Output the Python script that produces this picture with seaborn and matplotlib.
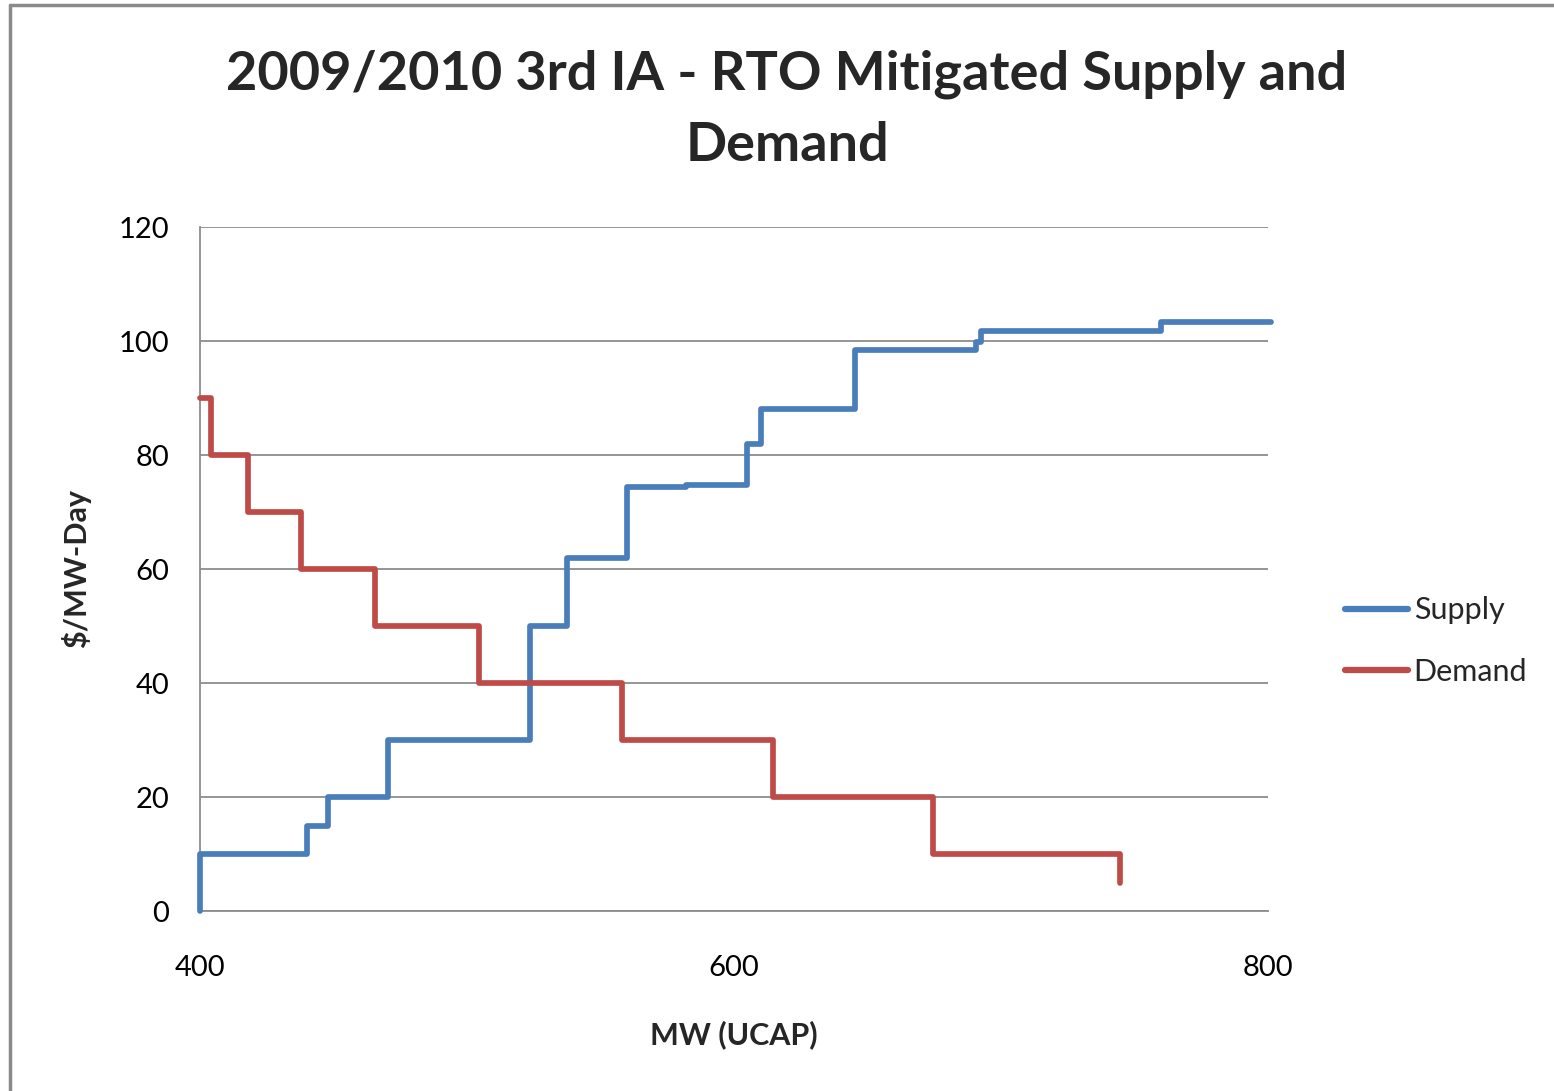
import numpy as np
import pandas as pd
import matplotlib
matplotlib.use("Agg")
import matplotlib.pyplot as plt
from matplotlib.lines import Line2D
import seaborn as sns

# ---- data ----
supply_mw = [400, 400, 440, 448, 470.5, 523.5, 537.5, 560, 582, 605, 610, 645.5, 690.5, 692.5, 760, 801]
supply_price = [0, 10, 15, 20, 30, 50, 62, 74.4, 74.7, 82, 88, 98.4, 99.8, 101.8, 103.3, 103.3]
demand_mw = [400, 404, 418, 438, 465.5, 504.5, 558, 614.5, 674.5, 744.5]
demand_price = [90, 80, 70, 60, 50, 40, 30, 20, 10, 5]
x_ticks = [400, 600, 800]
y_ticks = [0, 20, 40, 60, 80, 100, 120]
title_text = "2009/2010 3rd IA - RTO Mitigated Supply and\nDemand"
x_label = "MW (UCAP)"
y_label = "$/MW-Day"
series_names = ["Supply", "Demand"]

sns.set_style("white")
plt.rcParams["font.family"] = ["Lato", "DejaVu Sans"]

BLUE = "#4A7EBB"
RED = "#BE4B48"
GRID = "#8C8C8C"

W, H = 1554, 1091
fig = plt.figure(figsize=(W / 100, H / 100), dpi=100)
ax = fig.add_axes([200 / W, 1 - 911 / H, (1268 - 200) / W, (911 - 227) / H])

sns.lineplot(x=supply_mw, y=supply_price, estimator=None, sort=False,
             drawstyle="steps-post", color=BLUE, linewidth=4.1, ax=ax,
             label=series_names[0], clip_on=False, zorder=3)
sns.lineplot(x=demand_mw, y=demand_price, estimator=None, sort=False,
             drawstyle="steps-post", color=RED, linewidth=4.1, ax=ax,
             label=series_names[1], clip_on=False, zorder=3)

ax.set_xlim(400, 800)
ax.set_ylim(0, 120)
ax.set_xticks(x_ticks)
ax.set_yticks(y_ticks)
ax.tick_params(axis="x", length=0, pad=32, labelsize=21, colors="#000000")
ax.tick_params(axis="y", length=0, pad=22, labelsize=21, colors="#000000")
ax.yaxis.grid(True, color=GRID, linewidth=1.3)
ax.xaxis.grid(False)
for s in ["top", "right"]:
    ax.spines[s].set_visible(False)
for s in ["left", "bottom"]:
    ax.spines[s].set_color(GRID)
    ax.spines[s].set_linewidth(1.3)

ax.set_xlabel(x_label, fontsize=22, fontweight="bold", labelpad=28)
ax.set_ylabel(y_label, fontsize=22, fontweight="bold", labelpad=20)

fig.text(787 / W, 1 - 110 / H, title_text, ha="center", va="center",
         fontsize=39, fontweight="bold", linespacing=1.55)

handles = [Line2D([], [], color=BLUE, lw=4.5, solid_capstyle="round"),
           Line2D([], [], color=RED, lw=4.5, solid_capstyle="round")]
ax.legend(handles, series_names, loc="center left",
          bbox_to_anchor=(1345 / W, 1 - 641 / H), bbox_transform=fig.transFigure,
          frameon=False, fontsize=22, handlelength=2.05, handletextpad=0.2,
          labelspacing=1.1, borderpad=0, borderaxespad=0)

# outer frame of the embedded chart
fig.add_artist(Line2D([10 / W, 10 / W], [0, 1 - 5 / H], color="#8A8A8A", lw=2.5,
                      transform=fig.transFigure))
fig.add_artist(Line2D([10 / W, 1], [1 - 5 / H, 1 - 5 / H], color="#8A8A8A", lw=2.5,
                      transform=fig.transFigure))

fig.savefig("out.png", dpi=100, facecolor="white")
